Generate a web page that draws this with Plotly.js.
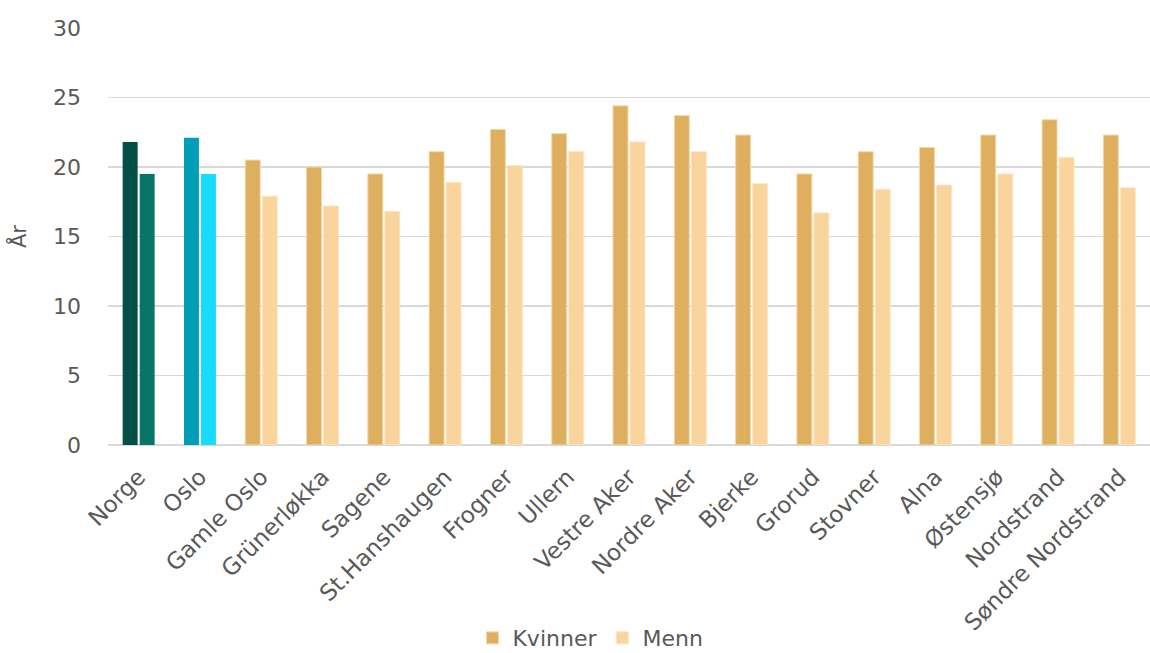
<!DOCTYPE html>
<html>
<head>
<meta charset="utf-8">
<script src="https://cdn.plot.ly/plotly-3.0.1.min.js"></script>
<style>html,body{margin:0;padding:0;background:#fff;}#chart{width:1150px;height:653px;}</style>
</head>
<body>
<div id="chart"></div>
<script>
const categories = ["Norge","Oslo","Gamle Oslo","Grünerløkka","Sagene","St.Hanshaugen","Frogner","Ullern","Vestre Aker","Nordre Aker","Bjerke","Grorud","Stovner","Alna","Østensjø","Nordstrand","Søndre Nordstrand"];
const kvinner = [21.8,22.1,20.5,20.0,19.5,21.1,22.7,22.4,24.4,23.7,22.3,19.5,21.1,21.4,22.3,23.4,22.3];
const menn    = [19.5,19.5,17.9,17.2,16.8,18.9,20.1,21.1,21.8,21.1,18.8,16.7,18.4,18.7,19.5,20.7,18.5];
const seriesNames = ["Kvinner","Menn"];
const yTicks = [0,5,10,15,20,25,30];

const colNorge = ["#034e45","#077567"];
const colOslo  = ["#009cb8","#17dbff"];
const colBydel = ["#dfaf60","#f9d49c"];
const lineBydel = ["#f3d9a8","#fbe6c4"];

const FONT = "'DejaVu Sans', 'Liberation Sans', sans-serif";
const TXT = "#595959";
const vals = [kvinner, menn];
const traces = [];
[0,1].forEach(function(s){
  const og = s === 0 ? "k" : "m";
  traces.push({type:"bar", x:[categories[0]], y:[vals[s][0]], offsetgroup:og, showlegend:false,
    name:seriesNames[s], marker:{color:colNorge[s], line:{width:0}}, hoverinfo:"x+y"});
  traces.push({type:"bar", x:[categories[1]], y:[vals[s][1]], offsetgroup:og, showlegend:false,
    name:seriesNames[s], marker:{color:colOslo[s], line:{width:0}}, hoverinfo:"x+y"});
});
[0,1].forEach(function(s){
  const og = s === 0 ? "k" : "m";
  traces.push({type:"bar", x:categories.slice(2), y:vals[s].slice(2), offsetgroup:og, showlegend:true,
    name:seriesNames[s], marker:{color:colBydel[s], line:{width:1, color:lineBydel[s]}}, hoverinfo:"x+y"});
});

const layout = {
  width:1150, height:653,
  margin:{l:108, r:0, t:28, b:208, pad:0, autoexpand:false},
  paper_bgcolor:"#fff", plot_bgcolor:"#fff",
  barmode:"group", bargap:0.445, bargroupgap:0.12,
  font:{family:FONT, color:TXT, size:21},
  xaxis:{type:"category", categoryorder:"array", categoryarray:categories,
    tickangle:-45, tickfont:{size:23, color:TXT, family:FONT}, ticklabelstandoff:13,
    showgrid:false, showline:false, ticks:"", zeroline:false, fixedrange:true, automargin:false},
  yaxis:{range:[0,30], tickvals:yTicks, ticktext:yTicks.map(String),
    tickfont:{size:22, color:TXT, family:FONT},
    showgrid:true, gridcolor:"#d9d9d9", gridwidth:1.5, zeroline:true, zerolinecolor:"#d9d9d9", zerolinewidth:2,
    showline:false, ticks:"", ticklabelstandoff:26, automargin:false,
    title:{text:"År", font:{size:21, color:TXT, family:FONT}, standoff:20}},
  legend:{orientation:"h", x:0.463, xanchor:"center", y:-0.463, yanchor:"middle",
    font:{size:22, color:TXT, family:FONT}, itemwidth:30, traceorder:"normal", tracegroupgap:0},
  showlegend:true
};
Plotly.newPlot("chart", traces, layout, {staticPlot:true, displayModeBar:false});
</script>
</body>
</html>
